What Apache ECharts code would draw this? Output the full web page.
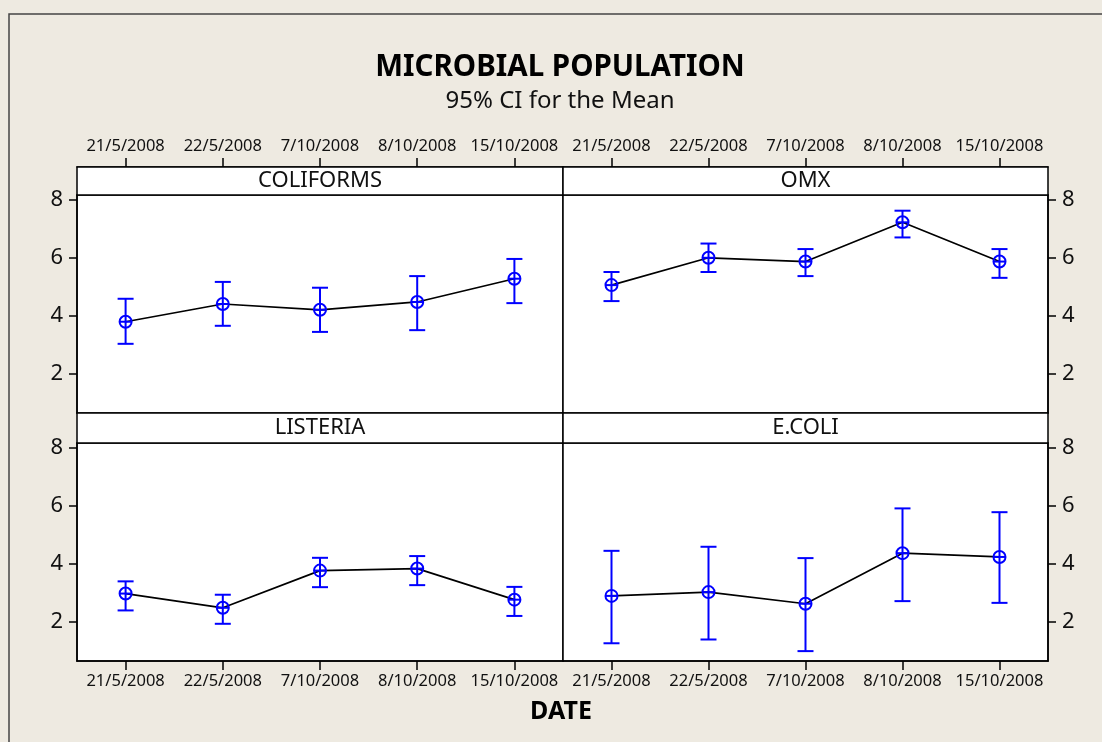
<!DOCTYPE html>
<html>
<head>
<meta charset="utf-8">
<script src="https://cdn.jsdelivr.net/npm/echarts@6/dist/echarts.min.js"></script>
<style>
html,body{margin:0;padding:0;background:#EEEAE1;}
#chart{width:1102px;height:742px;}
</style>
</head>
<body>
<div id="chart"></div>
<script>
// ---- data ----
const categories = ['21/5/2008', '22/5/2008', '7/10/2008', '8/10/2008', '15/10/2008'];
const yTicks = [2, 4, 6, 8];
const panelNames = ['COLIFORMS', 'OMX', 'LISTERIA', 'E.COLI'];

const coliformsMean = [3.80, 4.41, 4.21, 4.48, 5.28];
const coliformsLow  = [3.04, 3.66, 3.45, 3.51, 4.44];
const coliformsHigh = [4.59, 5.17, 4.97, 5.37, 5.96];

const omxMean = [5.06, 6.00, 5.87, 7.22, 5.87];
const omxLow  = [4.51, 5.51, 5.37, 6.70, 5.31];
const omxHigh = [5.51, 6.49, 6.30, 7.62, 6.30];

const listeriaMean = [2.98, 2.49, 3.77, 3.84, 2.77];
const listeriaLow  = [2.40, 1.94, 3.20, 3.27, 2.21];
const listeriaHigh = [3.40, 2.94, 4.21, 4.27, 3.21];

const ecoliMean = [2.90, 3.03, 2.63, 4.37, 4.24];
const ecoliLow  = [1.27, 1.40, 1.00, 2.72, 2.66];
const ecoliHigh = [4.45, 4.59, 4.20, 5.91, 5.78];

// ---- layout ----
const FONT = "'Noto Sans', 'DejaVu Sans', sans-serif";
const BLUE = '#0000FF';
const yMin = 0.66, yMax = 8.16;
const grids = [
  {left: 77,  top: 195, width: 486, height: 218},
  {left: 563, top: 195, width: 485, height: 218},
  {left: 77,  top: 443, width: 486, height: 218},
  {left: 563, top: 443, width: 485, height: 218}
];
const headerHs = [28, 28, 30, 30];
const panelData = [
  [coliformsMean, coliformsLow, coliformsHigh],
  [omxMean, omxLow, omxHigh],
  [listeriaMean, listeriaLow, listeriaHigh],
  [ecoliMean, ecoliLow, ecoliHigh]
];

const chart = echarts.init(document.getElementById('chart'), null, {renderer: 'canvas'});

const xAxes = [], yAxes = [], series = [], graphics = [];

// outer frame
graphics.push({type: 'rect', shape: {x: 9, y: 14, width: 1200, height: 900},
  style: {fill: 'none', stroke: '#444', lineWidth: 1.5}, z: 0});

grids.forEach((g, i) => {
  const isTop = i < 2;
  const isLeft = i % 2 === 0;
  const headerH = headerHs[i];
  xAxes.push({
    type: 'category', gridIndex: i, data: categories,
    position: isTop ? 'top' : 'bottom',
    offset: isTop ? headerH : 0,
    boundaryGap: true,
    axisLine: {show: true, lineStyle: {color: '#000', width: 1.5}},
    axisTick: {show: true, alignWithLabel: true, length: 9, inside: false, lineStyle: {color: '#000', width: 1.5}},
    axisLabel: {show: true, color: '#111', fontFamily: FONT, fontSize: 16.5, margin: 12, interval: 0},
    splitLine: {show: false}
  });
  yAxes.push({
    type: 'value', gridIndex: i, min: yMin, max: yMax,
    position: isLeft ? 'left' : 'right',
    axisLine: {show: true, lineStyle: {color: '#000', width: 1.5}},
    axisTick: {show: true, length: 8, inside: false, customValues: yTicks, lineStyle: {color: '#000', width: 1.5}},
    axisLabel: {show: true, color: '#111', fontFamily: FONT, fontSize: 22, margin: 14, customValues: yTicks},
    splitLine: {show: false}
  });
  const [mean, low, high] = panelData[i];
  series.push({
    type: 'line', xAxisIndex: i, yAxisIndex: i, data: mean,
    symbol: 'none', lineStyle: {color: '#000', width: 1.7}, z: 2, silent: true
  });
  series.push({
    type: 'custom', xAxisIndex: i, yAxisIndex: i, z: 3, silent: true,
    data: mean.map((m, k) => [k, m, low[k], high[k]]),
    renderItem: function (params, api) {
      const x = api.value(0);
      const pm = api.coord([x, api.value(1)]);
      const pl = api.coord([x, api.value(2)]);
      const ph = api.coord([x, api.value(3)]);
      const cw = 8, r = 6;
      const st = {stroke: BLUE, lineWidth: 2, fill: 'none'};
      return {
        type: 'group',
        children: [
          {type: 'line', shape: {x1: pm[0], y1: pl[1], x2: pm[0], y2: ph[1]}, style: st},
          {type: 'line', shape: {x1: pm[0] - cw, y1: pl[1], x2: pm[0] + cw, y2: pl[1]}, style: st},
          {type: 'line', shape: {x1: pm[0] - cw, y1: ph[1], x2: pm[0] + cw, y2: ph[1]}, style: st},
          {type: 'circle', shape: {cx: pm[0], cy: pm[1], r: r}, style: st},
          {type: 'line', shape: {x1: pm[0] - r, y1: pm[1], x2: pm[0] + r, y2: pm[1]}, style: st}
        ]
      };
    }
  });
  // header strip
  graphics.push({
    type: 'rect', shape: {x: g.left, y: g.top - headerH, width: g.width, height: headerH},
    style: {fill: '#fff', stroke: '#000', lineWidth: 1.5}, z: 5
  });
  graphics.push({
    type: 'text', x: g.left + g.width / 2, y: g.top - headerH / 2, z: 6,
    style: {text: panelNames[i], fill: '#111', font: '22px ' + FONT, textAlign: 'center', textVerticalAlign: 'middle'}
  });
});

const option = {
  backgroundColor: '#EEEAE1',
  animation: false,
  title: [
    {text: 'MICROBIAL POPULATION', left: 555, top: 48, textAlign: 'center',
     textStyle: {fontFamily: FONT, fontWeight: 'bold', fontSize: 29.5, color: '#000'}},
    {text: '95% CI for the Mean', left: 555, top: 84, textAlign: 'center',
     textStyle: {fontFamily: FONT, fontWeight: 'normal', fontSize: 24, color: '#111'}},
    {text: 'DATE', left: 556, top: 694, textAlign: 'center',
     textStyle: {fontFamily: FONT, fontWeight: 'bold', fontSize: 25, color: '#000'}}
  ],
  grid: grids.map(g => Object.assign({show: true, backgroundColor: '#fff', borderColor: '#000', borderWidth: 1.5, containLabel: false}, g)),
  xAxis: xAxes,
  yAxis: yAxes,
  series: series,
  graphic: graphics
};
chart.setOption(option);
</script>
</body>
</html>
